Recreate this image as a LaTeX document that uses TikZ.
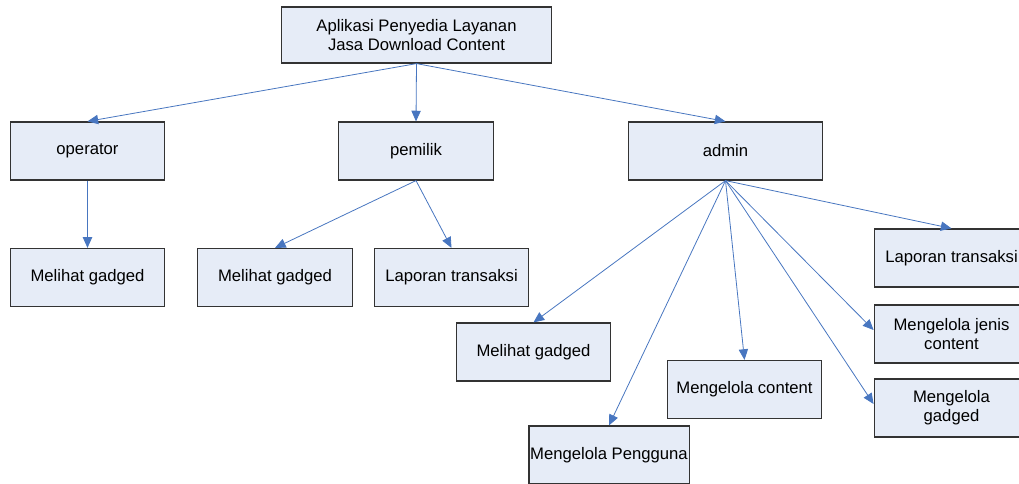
\documentclass[tikz,border=0pt]{standalone}
\usepackage{fontspec}
\setmainfont{Liberation Sans}
\usetikzlibrary{arrows.meta}
\definecolor{boxfill}{RGB}{230,236,247}
\definecolor{edgeblue}{RGB}{72,118,192}
\begin{document}
\begin{tikzpicture}[x=0.75pt,y=-0.75pt,
  box/.style={draw=black!80,line width=0.9pt,fill=boxfill,minimum width=116pt,minimum height=43.5pt,
    inner sep=1pt,align=center,font=\fontsize{12.5pt}{14.5pt}\selectfont},
  conn/.style={draw=edgeblue,line width=0.6pt,-{Triangle[length=8pt,width=7pt]}}]
\useasboundingbox (0,0) rectangle (1019,483);
\begin{scope}
\clip (0,0) rectangle (1019,483);
\node[box,minimum width=203pt,minimum height=42pt] (top) at (416.5,35) {Aplikasi Penyedia Layanan\\Jasa Download Content};
\node[box] (op) at (87.5,151) {operator};
\node[box] (pem) at (416,151) {pemilik};
\node[box,minimum width=145pt] (adm) at (725.5,151) {admin};
\node[box] (op1) at (87.5,277.5) {Melihat gadged};
\node[box] (pem1) at (275,277.5) {Melihat gadged};
\node[box] (pem2) at (451.5,277.5) {Laporan transaksi};
\node[box] (a1) at (951.5,258) {Laporan transaksi};
\node[box] (a2) at (951.5,334) {Mengelola jenis\\content};
\node[box] (a3) at (951.5,408) {Mengelola\\gadged};
\node[box] (a4) at (533.5,352) {Melihat gadged};
\node[box] (a5) at (744.5,389.5) {Mengelola content};
\node[box] (a6) at (609,455) {Mengelola Pengguna};
\draw[conn] (top.south) -- (op.north);
\draw[conn] (top.south) -- (pem.north);
\draw[conn] (top.south) -- (adm.north);
\draw[conn] (op.south) -- (op1.north);
\draw[conn] (pem.south) -- (pem1.north);
\draw[conn] (pem.south) -- (pem2.north);
\draw[conn] (adm.south) -- (a1.north);
\draw[conn] (adm.south) -- ([yshift=3pt]a2.west);
\draw[conn] (adm.south) -- ([yshift=3pt]a3.west);
\draw[conn] (adm.south) -- (a4.north);
\draw[conn] (adm.south) -- (a5.north);
\draw[conn] (adm.south) -- (a6.north);
\end{scope}
\end{tikzpicture}
\end{document}
